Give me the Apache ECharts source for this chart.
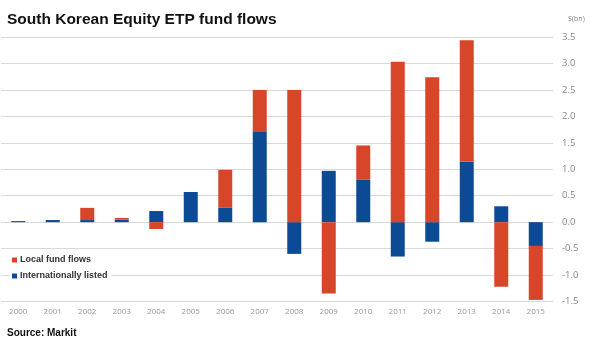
<!DOCTYPE html>
<html>
<head>
<meta charset="utf-8">
<script src="https://cdn.jsdelivr.net/npm/echarts@6/dist/echarts.min.js"></script>
<style>
html,body{margin:0;padding:0;background:#fff;}
#main{width:590px;height:341px;}
</style>
</head>
<body>
<div id="main"></div>
<script>
var categories = ['2000','2001','2002','2003','2004','2005','2006','2007','2008','2009','2010','2011','2012','2013','2014','2015'];
var internationallyListed = [0.02, 0.04, 0.04, 0.05, 0.21, 0.57, 0.27, 1.72, -0.60, 0.97, 0.80, -0.65, -0.37, 1.14, 0.30, -0.45];
var localFundFlows = [0.00, 0.00, 0.23, 0.03, -0.13, 0.00, 0.72, 0.78, 2.50, -1.35, 0.65, 3.03, 2.74, 2.30, -1.22, -1.02];
var yMin = -1.5, yMax = 3.5, yStep = 0.5;

var RED = '#D8462A', BLUE = '#0C4A95';
var chart = echarts.init(document.getElementById('main'));
chart.setOption({
  animation: false,
  backgroundColor: '#fff',
  title: [
    {text: 'South Korean Equity ETP fund flows', left: 2, top: 7,
     textStyle: {fontFamily: 'Liberation Sans, Arial', fontWeight: 'bold', fontSize: 15.5, color: '#111'}},
    {text: 'Source: Markit', left: 2, top: 323,
     textStyle: {fontFamily: 'Liberation Sans, Arial', fontWeight: 'bold', fontSize: 10, color: '#111'}},
    {text: '$(bn)', left: 563, top: 10,
     textStyle: {fontFamily: 'Open Sans', fontWeight: 'normal', fontSize: 7, color: '#888'}}
  ],
  legend: {
    orient: 'vertical', left: 10, top: 252,
    data: ['Local fund flows', 'Internationally listed'],
    icon: 'rect', itemWidth: 5, itemHeight: 5, itemGap: 4,
    backgroundColor: '#fff', padding: [2, 4, 2, 2],
    textStyle: {fontFamily: 'Liberation Sans, Arial', fontWeight: 'bold', fontSize: 9, color: '#333', lineHeight: 12, padding: [0,0,0,-2]}
  },
  grid: {left: 1, right: 37, top: 37, bottom: 39.5},
  xAxis: {
    type: 'category', data: categories,
    axisLine: {show: false}, axisTick: {show: false},
    axisLabel: {fontFamily: 'Open Sans', fontSize: 8, color: '#999', margin: 6}
  },
  yAxis: {
    type: 'value', position: 'right', min: yMin, max: yMax, interval: yStep,
    axisLine: {show: false}, axisTick: {show: false},
    splitLine: {lineStyle: {color: '#d9d9d9', width: 1}},
    axisLabel: {fontFamily: 'Open Sans', fontSize: 9.5, color: '#888', margin: 9,
      formatter: function (v) { return v.toFixed(1); }}
  },
  series: [
    {name: 'Internationally listed', type: 'bar', stack: 'a', data: internationallyListed,
     barWidth: 14, itemStyle: {color: BLUE}},
    {name: 'Local fund flows', type: 'bar', stack: 'a', data: localFundFlows,
     barWidth: 14, itemStyle: {color: RED}}
  ]
});
</script>
</body>
</html>
